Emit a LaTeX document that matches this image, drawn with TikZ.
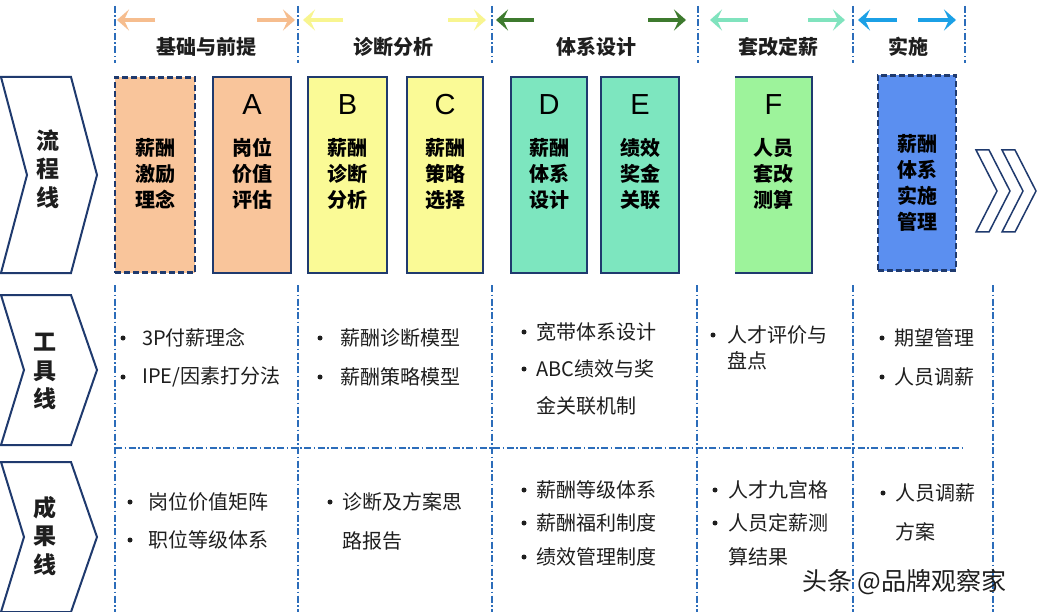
\documentclass[tikz,border=0pt]{standalone}
\usepackage{fontspec}
\setmainfont{Noto Sans CJK SC}
\newfontfamily\latinf{Liberation Sans}
\usetikzlibrary{arrows.meta}
\definecolor{navy}{HTML}{1F3A6E}
\definecolor{dline}{HTML}{2C6DBA}
\definecolor{cor}{HTML}{F9C59B}
\definecolor{cyel}{HTML}{FAFA96}
\definecolor{cmint}{HTML}{7DE6BF}
\definecolor{cgrn}{HTML}{9DF39B}
\definecolor{cblue}{HTML}{5B8FF0}
\definecolor{aor}{HTML}{F6BD8E}
\definecolor{ayel}{HTML}{F8F590}
\definecolor{adg}{HTML}{3D7A2E}
\definecolor{ateal}{HTML}{80E3BE}
\definecolor{ablu}{HTML}{1BA0E6}
\definecolor{txtc}{HTML}{1E1E1E}
\tikzset{
  boxs/.style={draw=navy, line width=1.5pt, inner sep=0pt, minimum height=196pt},
  dboxs/.style={draw=navy, line width=2.5pt, dash pattern=on 6pt off 3pt, inner sep=0pt, minimum height=195pt},
  lett/.style={font=\latinf\fontsize{29}{30}\selectfont, text=black},
  btxt/.style={font=\bfseries\fontsize{20}{26}\selectfont, align=center, text=black},
  hdr/.style={font=\bfseries\fontsize{20}{24}\selectfont, text=txtc},
  chev/.style={draw=navy, line width=2pt, fill=white, line join=miter},
  clab/.style={font=\bfseries\fontsize{23}{28.5}\selectfont, align=center, text=txtc},
  dd/.style={draw=dline, line width=1.6pt, dash pattern=on 7pt off 2.5pt on 1.5pt off 2.5pt},
  arr/.style={line width=4pt, -{Stealth[length=12pt,width=21pt,inset=5pt]}},
  bul/.style={circle, fill=txtc, inner sep=0pt, minimum size=5pt},
  itm/.style={anchor=west, font=\fontsize{20}{24}\selectfont, text=txtc, inner sep=0pt},
}
\begin{document}
\begin{tikzpicture}[x=1pt,y=-1pt]
\useasboundingbox (0,0) rectangle (1038,612);
\fill[white] (0,0) rectangle (1038,612);

% top separators
\foreach \x in {115,298,492,698,853,965} \draw[dd] (\x,6) -- (\x,63);
% lower separators
\foreach \x in {115,298,492,697,853,993} \draw[dd] (\x,285) -- (\x,612);
\draw[dd] (115,448) -- (965,448);

% top arrows
\draw[arr, aor] (155,20) -- (117,20);
\draw[arr, aor] (257,20) -- (295,20);
\draw[arr, ayel] (343,20) -- (303,20);
\draw[arr, ayel] (448,20) -- (486,20);
\draw[arr, adg] (534,20) -- (496,20);
\draw[arr, adg] (648,20) -- (686,20);
\draw[arr, ateal] (748,20) -- (710,20);
\draw[arr, ateal] (808,20) -- (845,20);
\draw[arr, ablu] (897,20) -- (858,20);
\draw[arr, ablu] (918,20) -- (956,20);

% headers
\node[hdr] (h1) at (206,47) {基础与前提};
\node[hdr] (h2) at (393,47) {诊断分析};
\node[hdr] (h3) at (596,47) {体系设计};
\node[hdr] (h4) at (778,47) {套改定薪};
\node[hdr] (h5) at (908,47) {实施};

% left chevrons
\draw[chev] (1,77) -- (71,77) -- (97,175) -- (71,273) -- (1,273) -- (27,175) -- cycle;
\node[clab] (c1) at (48,169) {流\\程\\线};
\draw[chev] (1,295) -- (71,295) -- (97,370) -- (71,445) -- (1,445) -- (24,370) -- cycle;
\node[clab] (c2) at (45,371.5) {工\\具\\线};
\draw[chev] (1,462) -- (71,462) -- (97,537) -- (71,612) -- (1,612) -- (24,537) -- cycle;
\node[clab] (c3) at (45,536) {成\\果\\线};

% process boxes
\node[dboxs, fill=cor, minimum width=80pt] (b0) at (155,175) {};
\node[btxt] (t0) at (155,174) {薪酬\\激励\\理念};

\node[boxs, fill=cor, minimum width=78pt] (bA) at (252,175) {};
\node[lett] (lA) at (252,105) {A};
\node[btxt] (tA) at (252,174) {岗位\\价值\\评估};

\node[boxs, fill=cyel, minimum width=79pt] (bB) at (347.5,175) {};
\node[lett] (lB) at (347.5,105) {B};
\node[btxt] (tB) at (347.5,174) {薪酬\\诊断\\分析};

\node[boxs, fill=cyel, minimum width=76pt] (bC) at (445,175) {};
\node[lett] (lC) at (445,105) {C};
\node[btxt] (tC) at (445,174) {薪酬\\策略\\选择};

\node[boxs, fill=cmint, minimum width=76pt] (bD) at (549,175) {};
\node[lett] (lD) at (549,105) {D};
\node[btxt] (tD) at (549,174) {薪酬\\体系\\设计};

\node[boxs, fill=cmint, minimum width=78pt] (bE) at (640,175) {};
\node[lett] (lE) at (640,105) {E};
\node[btxt] (tE) at (640,174) {绩效\\奖金\\关联};

\node[fill=cgrn, inner sep=0pt, minimum width=77pt, minimum height=196pt] (bF) at (773.5,175) {};
\draw[navy, line width=1.5pt] (bF.north west) -- (bF.north east) -- (bF.south east) -- (bF.south west);
\node[lett] (lF) at (773.5,105) {F};
\node[btxt] (tF) at (773.5,174) {人员\\套改\\测算};

\node[dboxs, fill=cblue, minimum width=78pt] (bG) at (917,173) {};
\node[btxt] (tG) at (917,182.5) {薪酬\\体系\\实施\\管理};

% right double chevron
\draw[navy, line width=1.5pt, fill=white] (976,150) -- (989,150) -- (1010,191) -- (989,232) -- (976,232) -- (997,191) -- cycle;
\draw[navy, line width=1.5pt, fill=white] (1002,150) -- (1015,150) -- (1036,191) -- (1015,232) -- (1002,232) -- (1023,191) -- cycle;

% tool line
\node[bul] (k11) at (123,338) {}; \node[itm] (i11) at (142,338) {3P付薪理念};
\node[bul] (k12) at (123,377) {}; \node[itm] (i12) at (142,377) {IPE/因素打分法};
\node[bul] (k21) at (320,338) {}; \node[itm] (i21) at (340,338) {薪酬诊断模型};
\node[bul] (k22) at (320,377) {}; \node[itm] (i22) at (340,377) {薪酬策略模型};
\node[bul] (k31) at (524,332) {}; \node[itm] (i31) at (536,332) {宽带体系设计};
\node[bul] (k32) at (524,369) {}; \node[itm] (i32) at (536,369) {ABC绩效与奖};
\node[itm] (i33) at (536,406) {金关联机制};
\node[bul] (k41) at (713,335) {}; \node[itm] (i41) at (727,335) {人才评价与};
\node[itm] (i42) at (727,361) {盘点};
\node[bul] (k51) at (882,338) {}; \node[itm] (i51) at (894,338) {期望管理};
\node[bul] (k52) at (882,377) {}; \node[itm] (i52) at (894,377) {人员调薪};

% result line
\node[bul] (r11) at (130,502) {}; \node[itm] (s11) at (148,502) {岗位价值矩阵};
\node[bul] (r12) at (130,540) {}; \node[itm] (s12) at (148,540) {职位等级体系};
\node[bul] (r21) at (330,502) {}; \node[itm] (s21) at (342,502) {诊断及方案思};
\node[itm] (s22) at (342,541) {路报告};
\node[bul] (r31) at (524,490) {}; \node[itm] (s31) at (536,490) {薪酬等级体系};
\node[bul] (r32) at (524,523) {}; \node[itm] (s32) at (536,523) {薪酬福利制度};
\node[bul] (r33) at (524,557) {}; \node[itm] (s33) at (536,557) {绩效管理制度};
\node[bul] (r41) at (715,490) {}; \node[itm] (s41) at (728,490) {人才九宫格};
\node[bul] (r42) at (715,523) {}; \node[itm] (s42) at (728,523) {人员定薪测};
\node[itm] (s43) at (728,557) {算结果};
\node[bul] (r51) at (883,493) {}; \node[itm] (s51) at (895,493) {人员调薪};
\node[itm] (s52) at (895,532) {方案};

% watermark
\node[anchor=west, inner sep=0pt, font=\fontsize{25}{28}\selectfont, text=txtc] (wm) at (802,582) {头条 @品牌观察家};
\end{tikzpicture}
\end{document}
